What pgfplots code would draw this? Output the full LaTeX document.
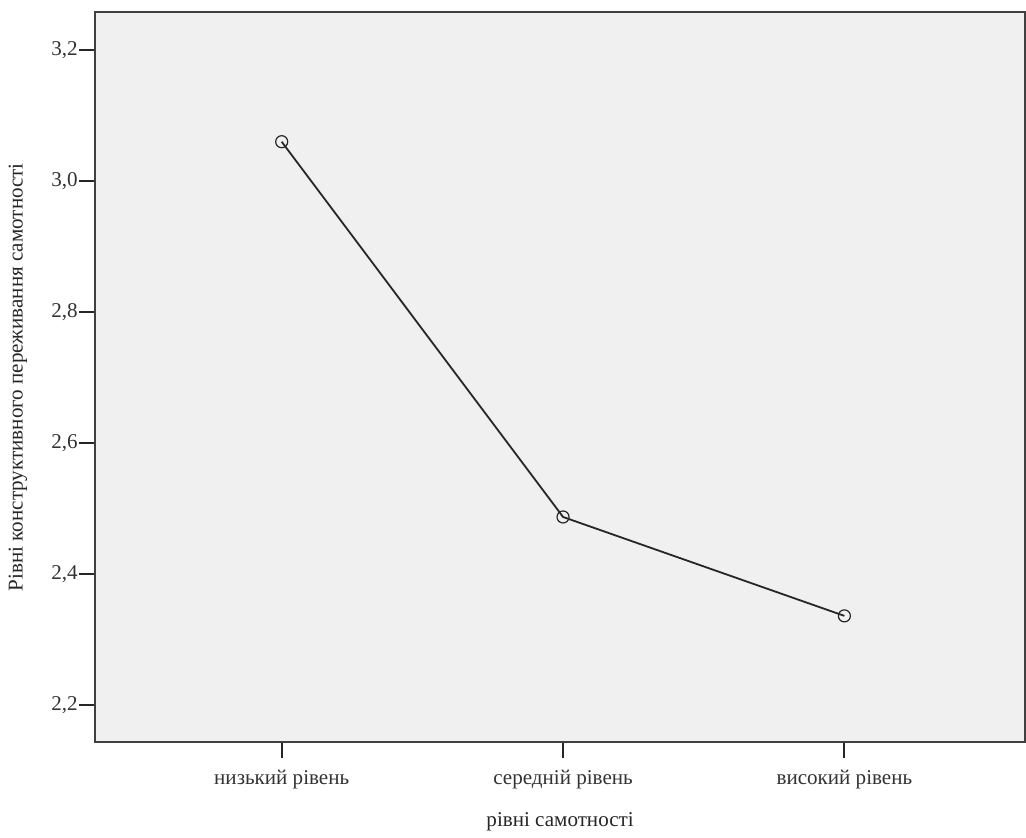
\documentclass[border={1pt 0pt 0pt 5.5pt}]{standalone}
\usepackage{fontspec}
\setmainfont{Liberation Serif}
\usepackage{pgfplots}
\pgfplotsset{compat=1.18}
\definecolor{bgc}{HTML}{F0F0F0}
\begin{document}
\begin{tikzpicture}
\begin{axis}[
  scale only axis,
  width=463.5pt, height=364pt,
  xmin=0.337, xmax=3.642,
  ymin=2.143, ymax=3.258,
  axis background/.style={fill=bgc},
  axis line style={black!75, line width=1pt},
  xtick={1,2,3},
  xticklabels={низький рівень, середній рівень, високий рівень},
  ytick={2.2,2.4,2.6,2.8,3.0,3.2},
  yticklabel style={/pgf/number format/fixed, /pgf/number format/fixed zerofill, /pgf/number format/precision=1, /pgf/number format/use comma, inner xsep=0.5pt},
  /pgf/number format/assume math mode=true,
  tick align=outside,
  tick pos=left,
  major tick length=8pt,
  tick style={black!85, line width=1pt},
  font=\fontsize{10.5pt}{12pt}\selectfont,
  xticklabel style={inner ysep=1pt, yshift=-4.5pt},
  xlabel={рівні самотності},
  ylabel={Рівні конструктивного переживання самотності},
  xlabel style={at={(axis description cs:0.5,0)}, anchor=center, yshift=-39.5pt},
  ylabel style={at={(axis description cs:0,0.5)}, anchor=center, rotate=0, yshift=38.5pt},
  every tick label/.append style={text=black!80},
  label style={text=black!85},
]
\addplot[black!85, line width=0.9pt, mark=o, mark size=3pt, mark options={line width=0.6pt}]
  coordinates {(1,3.060) (2,2.487) (3,2.336)};
\end{axis}
\end{tikzpicture}
\end{document}
